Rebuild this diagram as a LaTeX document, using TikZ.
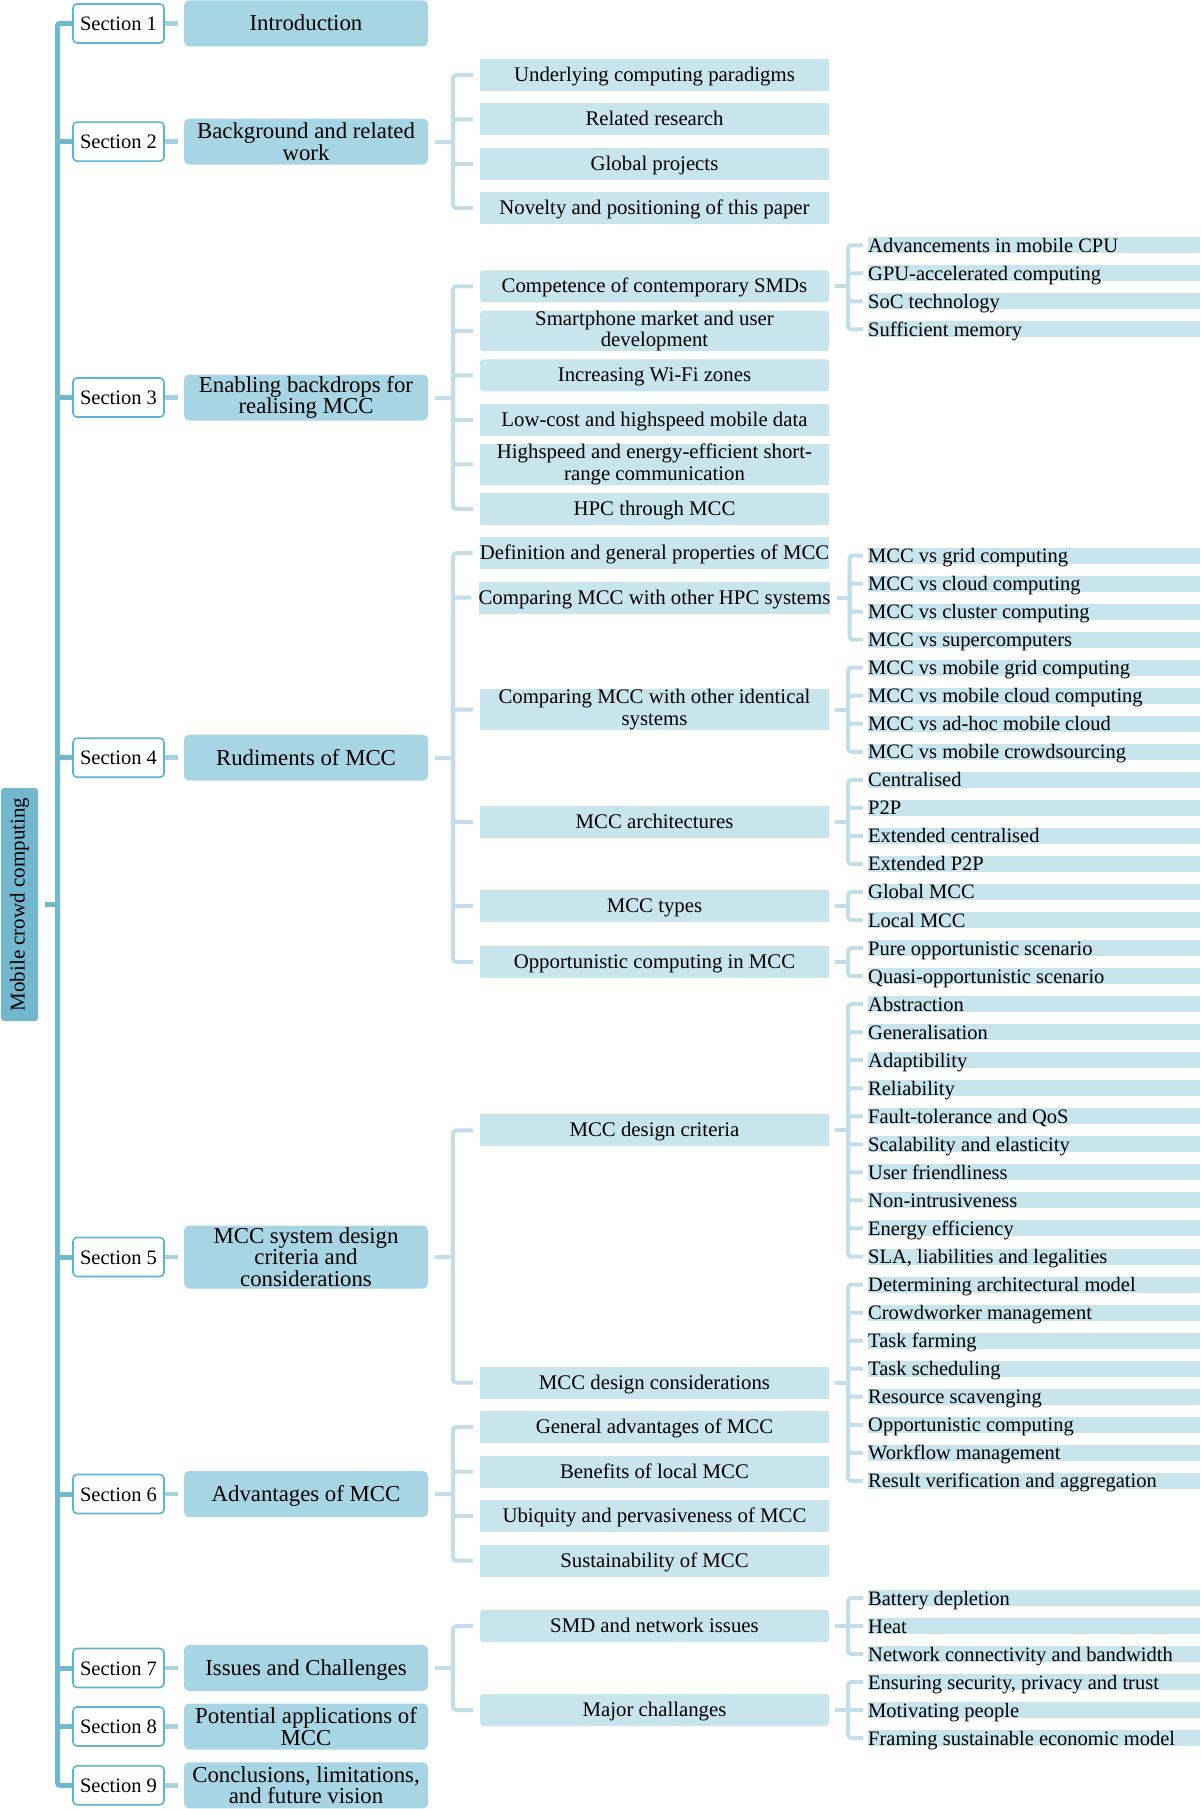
\documentclass[tikz,border=0pt]{standalone}
\usepackage{fontspec}
\setmainfont{Liberation Serif}
\usetikzlibrary{calc}
\definecolor{trunkc}{HTML}{72B7CE}
\definecolor{secborder}{HTML}{5DB5D0}
\definecolor{mainfill}{HTML}{A8D5E3}
\definecolor{subfill}{HTML}{C8E4ED}
\definecolor{leaffill}{HTML}{C8E4ED}
\definecolor{seclinkc}{HTML}{A9D3E1}
\definecolor{brc}{HTML}{C3DEE8}
\newcommand\fleaf{\fontsize{20.5}{21}\selectfont}
\newcommand\fsubb{\fontsize{20.8}{21.5}\selectfont}
\newcommand\fmainb{\fontsize{22.8}{21.6}\selectfont}
\newcommand\fsecb{\fontsize{20.5}{21}\selectfont}
\newcommand\frootb{\fontsize{21}{21}\selectfont}
% level-3 bracket: parent, child prefix, first, last
\newcommand\brackthree[4]{%
  \draw[br] ([xshift=6pt]#1.east) -- ++(13,0) coordinate (j#1);
  \foreach \k in {#3,...,#4}{\draw[br] (j#1) |- ([xshift=-5pt]#2\k.west);}
}
% level-2 bracket
\newcommand\bracktwo[4]{%
  \draw[br] ([xshift=7pt]#1.east) -- ++(18,0) coordinate (j#1);
  \foreach \k in {#3,...,#4}{\draw[br] (j#1) |- ([xshift=-7pt]#2\k.west);}
}
\begin{document}
\begin{tikzpicture}[x=1pt,y=-1pt,
  secbox/.style={draw=secborder, line width=1.6pt, fill=white, rounded corners=4pt,
    minimum width=91pt, minimum height=39pt, inner sep=0pt, font=\fsecb,
    text height=14pt, text depth=0pt},
  mainbox/.style={fill=mainfill, rounded corners=5pt, minimum width=244pt,
    minimum height=46pt, inner sep=0pt, align=flush center, font=\fmainb},
  main1/.style={mainbox, text height=15pt, text depth=0pt},
  subbox/.style={fill=subfill, minimum width=349pt, minimum height=32pt,
    inner sep=0pt, align=flush center, font=\fsubb},
  sub1/.style={subbox, text height=14pt, text depth=1pt},
  rsub/.style={rounded corners=3pt},
  leaf/.style={fill=leaffill, anchor=west, text width=332pt, align=flush left,
    inner xsep=0pt, inner ysep=1pt, text height=14pt, text depth=0pt, font=\fleaf},
  trunk/.style={draw=trunkc, line width=5pt, rounded corners=2pt},
  seclink/.style={draw=seclinkc, line width=4.5pt},
  br/.style={draw=brc, line width=4pt, rounded corners=3pt}
]
\useasboundingbox (0,0) rectangle (1200,1809);

% root
\node[fill=trunkc, rounded corners=3pt, rotate=90, minimum width=233pt,
  minimum height=37pt, inner sep=0pt, font=\frootb] (root) at (19.5,904.5) {Mobile crowd computing};

% sections and main boxes
\foreach \i/\y in {1/23.5,2/141.6,3/397.5,4/757.7,5/1257,6/1494,7/1668,8/1726.5,9/1785.3}{
  \node[secbox] (s\i) at (118.5,\y) {Section \i};
}
\node[main1] (m1) at (306,23.5) {Introduction};
\node[mainbox] (m2) at (306,141.6) {Background and related\\work};
\node[mainbox] (m3) at (306,397.5) {Enabling backdrops for\\realising MCC};
\node[main1] (m4) at (306,757.7) {Rudiments of MCC};
\node[mainbox, minimum height=63pt] (m5) at (306,1257) {MCC system design\\criteria and\\considerations};
\node[main1] (m6) at (306,1494) {Advantages of MCC};
\node[main1] (m7) at (306,1668) {Issues and Challenges};
\node[mainbox] (m8) at (306,1726.5) {Potential applications of\\MCC};
\node[mainbox] (m9) at (306,1785.3) {Conclusions, limitations,\\and future vision};

% trunk
\draw[trunk] (s1.west) -- ++(-14.5,0) coordinate (tk) -- (tk |- s9.west) -- (s9.west);
\foreach \i in {2,...,8}{\draw[trunk] (s\i.west) -- (tk |- s\i.west);}
\draw[trunk, rounded corners=0pt] (root.south) ++(7,0) -- (tk |- root.south);

\foreach \i in {1,...,9}{\draw[seclink] (s\i.east) -- ([xshift=-6pt]m\i.west);}

% level 2: section 2
\node[sub1] (a1) at (654.5,75) {Underlying computing paradigms};
\node[sub1] (a2) at (654.5,119.4) {Related research};
\node[sub1] (a3) at (654.5,163.8) {Global projects};
\node[sub1] (a4) at (654.5,208.2) {Novelty and positioning of this paper};
% section 3
\node[sub1, rsub] (b1) at (654.5,286.3) {Competence of contemporary SMDs};
\node[subbox, rsub] (b2) at (654.5,330.8) {Smartphone market and user\\development};
\node[sub1, rsub] (b3) at (654.5,375.3) {Increasing Wi-Fi zones};
\node[sub1] (b4) at (654.5,419.8) {Low-cost and highspeed mobile data};
\node[subbox] (b5) at (654.5,464.3) {Highspeed and energy-efficient short-\\range communication};
\node[sub1] (b6) at (654.5,508.8) {HPC through MCC};
% section 4
\node[sub1] (c1) at (654.5,553.1) {Definition and general properties of MCC};
\node[sub1] (c2) at (654.5,597.6) {Comparing MCC with other HPC systems};
\node[subbox] (c3) at (654.5,709.7) {Comparing MCC with other identical\\systems};
\node[sub1] (c4) at (654.5,821.9) {MCC architectures};
\node[sub1] (c5) at (654.5,906.0) {MCC types};
\node[sub1] (c6) at (654.5,962.1) {Opportunistic computing in MCC};
% section 5
\node[sub1] (d1) at (654.5,1130.3) {MCC design criteria};
\node[sub1] (d2) at (654.5,1382.7) {MCC design considerations};
% section 6
\node[sub1] (e1) at (654.5,1427.2) {General advantages of MCC};
\node[sub1] (e2) at (654.5,1471.7) {Benefits of local MCC};
\node[sub1] (e3) at (654.5,1516.2) {Ubiquity and pervasiveness of MCC};
\node[sub1] (e4) at (654.5,1560.7) {Sustainability of MCC};
% section 7
\node[sub1, rsub] (f1) at (654.5,1626) {SMD and network issues};
\node[sub1, rsub] (f2) at (654.5,1710) {Major challanges};

\bracktwo{m2}{a}{1}{4}
\bracktwo{m3}{b}{1}{6}
\bracktwo{m4}{c}{1}{6}
\bracktwo{m5}{d}{1}{2}
\bracktwo{m6}{e}{1}{4}
\bracktwo{m7}{f}{1}{2}

% leaves chain 1
\foreach \t [count=\i from 1] in {Advancements in mobile CPU, GPU-accelerated computing, SoC technology, Sufficient memory}{
  \node[leaf] (p\i) at (868,{245.3+28*(\i-1)}) {\t};
}
% leaves chain 2
\foreach \t [count=\i from 0] in {MCC vs grid computing, MCC vs cloud computing, MCC vs cluster computing, MCC vs supercomputers,
  MCC vs mobile grid computing, MCC vs mobile cloud computing, MCC vs ad-hoc mobile cloud, MCC vs mobile crowdsourcing,
  Centralised, P2P, Extended centralised, Extended P2P,
  Global MCC, Local MCC,
  Pure opportunistic scenario, Quasi-opportunistic scenario,
  Abstraction, Generalisation, Adaptibility, Reliability, Fault-tolerance and QoS, Scalability and elasticity,
  User friendliness, Non-intrusiveness, Energy efficiency, {SLA, liabilities and legalities},
  Determining architectural model, Crowdworker management, Task farming, Task scheduling,
  Resource scavenging, Opportunistic computing, Workflow management, Result verification and aggregation}{
  \node[leaf] (l\i) at (868,{555.5+28.04*\i}) {\t};
}
% leaves chain 3
\foreach \t [count=\i from 0] in {Battery depletion, Heat, Network connectivity and bandwidth,
  {Ensuring security, privacy and trust}, Motivating people, Framing sustainable economic model}{
  \node[leaf] (q\i) at (868,{1598+28*\i}) {\t};
}

\brackthree{b1}{p}{1}{4}
\brackthree{c2}{l}{0}{3}
\brackthree{c3}{l}{4}{7}
\brackthree{c4}{l}{8}{11}
\brackthree{c5}{l}{12}{13}
\brackthree{c6}{l}{14}{15}
\brackthree{d1}{l}{16}{25}
\brackthree{d2}{l}{26}{33}
\brackthree{f1}{q}{0}{2}
\brackthree{f2}{q}{3}{5}
\end{tikzpicture}
\end{document}
